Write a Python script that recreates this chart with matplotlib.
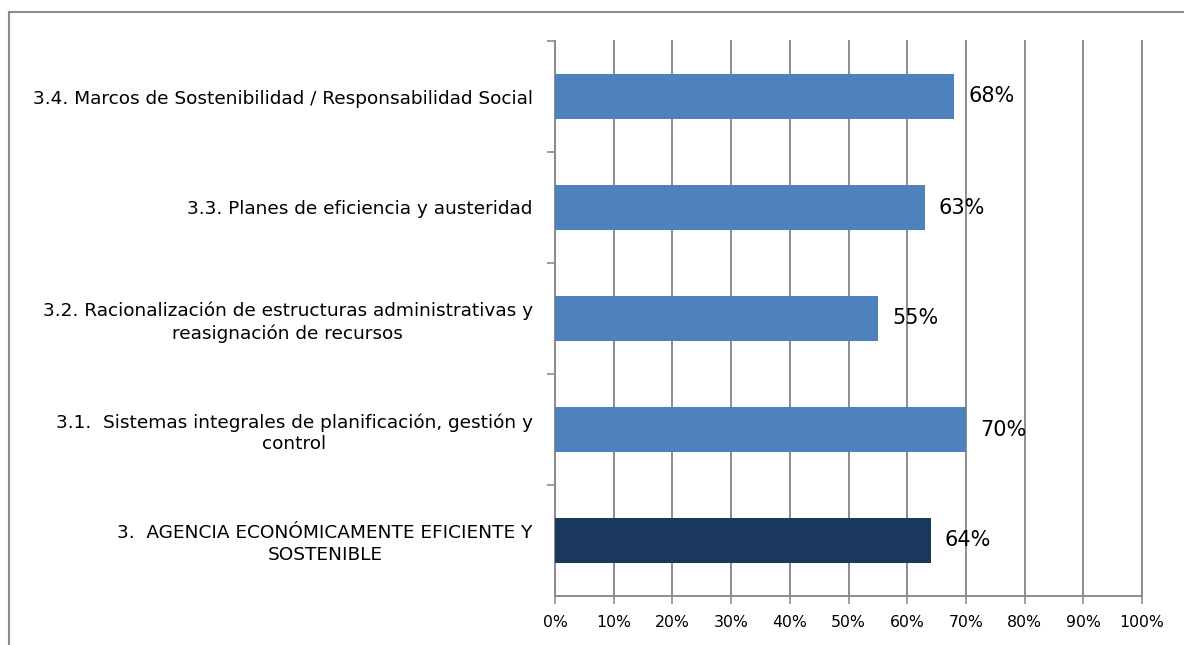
import matplotlib.pyplot as plt
from matplotlib.lines import Line2D
from matplotlib.ticker import MultipleLocator, FuncFormatter

plt.rcParams['font.family'] = ['DejaVu Sans']

categories = [
    "3.  AGENCIA ECONÓMICAMENTE EFICIENTE Y\nSOSTENIBLE",
    "3.1.  Sistemas integrales de planificación, gestión y\ncontrol",
    "3.2. Racionalización de estructuras administrativas y\nreasignación de recursos",
    "3.3. Planes de eficiencia y austeridad",
    "3.4. Marcos de Sostenibilidad / Responsabilidad Social",
]
values = [0.64, 0.70, 0.55, 0.63, 0.68]
colors = ["#1a385e", "#4f81bd", "#4f81bd", "#4f81bd", "#4f81bd"]

W, H = 1184, 645
fig = plt.figure(figsize=(W / 100, H / 100), dpi=100)
ax = fig.add_axes([555 / W, 1 - 596 / H, (1142 - 555) / W, (596 - 41) / H])

ypos = range(len(categories))
ax.barh(ypos, values, height=0.4, color=colors, zorder=3)

for y, v in zip(ypos, values):
    ax.text(v + 0.024, y, f"{v * 100:.0f}%", va="center", ha="left",
            fontsize=15, color="black", zorder=4)

ax.set_xlim(0, 1)
ax.set_ylim(-0.5, len(categories) - 0.5)
ax.xaxis.set_major_locator(MultipleLocator(0.1))
ax.xaxis.set_major_formatter(FuncFormatter(lambda x, _: f"{x * 100:.0f}%"))
ax.grid(axis="x", color="#8c8c8c", linewidth=1.4, zorder=0)
for gl in ax.get_xgridlines():
    gl.set_clip_on(False)

ax.set_yticks(list(ypos))
ax.set_yticklabels(categories, fontsize=13.3, ha="right", multialignment="center",
                   linespacing=1.25)
# boundary ticks between categories on the value axis
ax.set_yticks([i + 0.5 for i in range(len(categories))], minor=True)
ax.tick_params(axis="y", which="major", length=0, pad=16)
ax.tick_params(axis="y", which="minor", length=6, width=1.2, color="#8c8c8c", direction="out")
ax.tick_params(axis="x", length=6, width=1.2, color="#8c8c8c", labelsize=11.3, pad=8)

for side in ("top", "right"):
    ax.spines[side].set_visible(False)
for side in ("left", "bottom"):
    ax.spines[side].set_color("#8c8c8c")
    ax.spines[side].set_linewidth(1.4)

# chart area border (left and top edges)
fig.add_artist(Line2D([9 / W, 9 / W], [0, 1 - 12 / H], color="#8c8c8c", linewidth=1.5))
fig.add_artist(Line2D([9 / W, 1], [1 - 12 / H, 1 - 12 / H], color="#8c8c8c", linewidth=1.5))

fig.savefig("out.png", dpi=100)
